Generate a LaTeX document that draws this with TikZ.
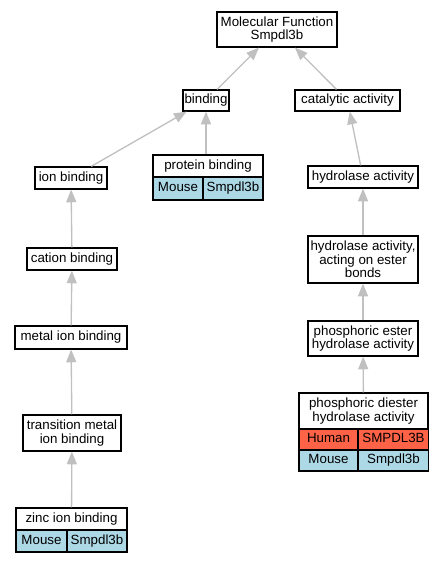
\documentclass[tikz,border=0pt]{standalone}
\usepackage{fontspec}
\setmainfont{Liberation Sans}
\usetikzlibrary{arrows.meta}
\definecolor{mouseblue}{HTML}{ADD8E6}
\definecolor{humanred}{HTML}{FF6347}
\definecolor{edgegray}{HTML}{C0C0C0}
\begin{document}
\begin{tikzpicture}[x=0.75pt,y=-0.75pt,
 box/.style={draw=black, line width=0.9pt, fill=white, inner sep=0pt, align=center, font=\fontsize{10}{10}\selectfont},
 one/.style={text height=7.2pt, text depth=2.1pt},
 mousecell/.style={box, one, fill=mouseblue},
 humancell/.style={box, one, fill=humanred},
 edge/.style={draw=edgegray, line width=1pt, -{Triangle[length=9.5pt,width=7.5pt,fill=edgegray]}}
]
\useasboundingbox (0,0) rectangle (444,563);
\node[box, minimum width=90pt, minimum height=26.25pt] (mf) at (277,29.5) {Molecular Function\\Smpdl3b};
\node[box, one, minimum width=34.5pt, minimum height=15.75pt] (binding) at (206,100.5) {binding};
\node[box, one, minimum width=78.75pt, minimum height=15.75pt] (cat) at (347.5,100.5) {catalytic activity};
\node[box, one, minimum width=54pt, minimum height=16.5pt] (ion) at (71,178) {ion binding};
\node[box, one, minimum width=82.5pt, minimum height=16.5pt] (prot) at (208,166) {protein binding};
\node[mousecell, minimum width=37.5pt, minimum height=17.25pt] (protm) at (178,188.5) {Mouse};
\node[mousecell, minimum width=45pt, minimum height=17.25pt] (protg) at (233,188.5) {Smpdl3b};
\node[box, one, minimum width=82.5pt, minimum height=16.5pt] (hyd) at (363,177) {hydrolase activity};
\node[box, one, minimum width=67.5pt, minimum height=16.5pt] (cation) at (72,259) {cation binding};
\node[box, minimum width=82.5pt, minimum height=35.25pt] (acting) at (363,259.5) {hydrolase activity,\\acting on ester\\bonds};
\node[box, one, minimum width=84pt, minimum height=17.25pt] (metal) at (71,337.5) {metal ion binding};
\node[box, minimum width=82.5pt, minimum height=26.25pt] (ester) at (363,338.5) {phosphoric ester\\hydrolase activity};
\node[box, minimum width=73.5pt, minimum height=27pt] (trans) at (72,433) {transition metal\\ion binding};
\node[box, minimum width=96.75pt, minimum height=27pt] (diester) at (363.5,411) {phosphoric diester\\hydrolase activity};
\node[humancell, minimum width=44.25pt, minimum height=15.75pt] (dh) at (328.5,439.5) {Human};
\node[humancell, minimum width=52.5pt, minimum height=15.75pt] (dhg) at (393.5,439.5) {SMPDL3B};
\node[mousecell, minimum width=44.25pt, minimum height=15.75pt] (dm) at (328.5,460.5) {Mouse};
\node[mousecell, minimum width=52.5pt, minimum height=15.75pt] (dmg) at (393.5,460.5) {Smpdl3b};
\node[box, one, minimum width=83.25pt, minimum height=16.5pt] (zinc) at (71.5,519) {zinc ion binding};
\node[mousecell, minimum width=38.25pt, minimum height=16.5pt] (zm) at (41.5,541) {Mouse};
\node[mousecell, minimum width=45pt, minimum height=16.5pt] (zg) at (97,541) {Smpdl3b};
% edges
\draw[edge] (binding) -- (mf);
\draw[edge] (cat) -- (mf);
\draw[edge] (ion) -- (binding);
\draw[edge] (prot.north -| binding.south) -- (binding.south);
\draw[edge] (hyd) -- (cat);
\draw[edge] (acting) -- (hyd);
\draw[edge] (ester) -- (acting);
\draw[edge] (diester) -- (ester);
\draw[edge] (cation) -- (ion);
\draw[edge] (metal) -- (cation);
\draw[edge] (trans) -- (metal);
\draw[edge] (zinc) -- (trans);
\end{tikzpicture}
\end{document}
